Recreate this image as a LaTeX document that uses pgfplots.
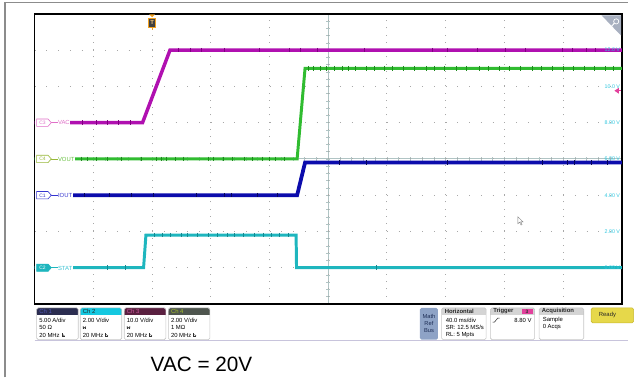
\documentclass[border=0pt]{standalone}
\usepackage{pgfplots}
\pgfplotsset{compat=1.18}
\usepackage{fontspec}
\setmainfont{Liberation Sans}

\definecolor{vaccol}{HTML}{B010B0}
\definecolor{vacdark}{HTML}{800080}
\definecolor{vaclbl}{HTML}{E070C8}
\definecolor{voutcol}{HTML}{30BC30}
\definecolor{voutdark}{HTML}{1E8A1E}
\definecolor{voutlbl}{HTML}{68C040}
\definecolor{c4tag}{HTML}{98B838}
\definecolor{ioutcol}{HTML}{0C0CAC}
\definecolor{ioutdark}{HTML}{06065C}
\definecolor{ioutlbl}{HTML}{3434D0}
\definecolor{statcol}{HTML}{1EB6BE}
\definecolor{statdark}{HTML}{14888F}
\definecolor{statlbl}{HTML}{3CC4D4}
\definecolor{gridcol}{HTML}{A8A8A8}
\definecolor{centercol}{HTML}{B0C4C4}
\definecolor{voltlbl}{HTML}{30C6DE}
\definecolor{framecol}{HTML}{8C8C8C}
\definecolor{boxline}{HTML}{C6C6C6}
\definecolor{ch1head}{HTML}{2B2D50}
\definecolor{ch1txt}{HTML}{5058B8}
\definecolor{ch2head}{HTML}{14C8E0}
\definecolor{ch3head}{HTML}{5A2040}
\definecolor{ch3txt}{HTML}{D058A0}
\definecolor{ch4head}{HTML}{4E554E}
\definecolor{ch4txt}{HTML}{A8C428}
\definecolor{mathbox}{HTML}{8EA3C6}
\definecolor{mathtxt}{HTML}{1C2C54}
\definecolor{headgray}{HTML}{D4D4D4}
\definecolor{trigpink}{HTML}{E2409C}
\definecolor{readyfill}{HTML}{E6D84A}
\definecolor{readyline}{HTML}{C8B830}
\definecolor{trigorange}{HTML}{F0A020}
\definecolor{panelline}{HTML}{C8C4DC}
\definecolor{zoomtri}{HTML}{A8B0C0}

\newcommand\fs[1]{\fontsize{#1}{#1}\selectfont}

% channel tag on the left edge of the screen:
% #1 ground coordinate, #2 outline, #3 fill, #4 tag text colour, #5 tag, #6 label colour, #7 label
\newcommand\chtag[7]{%
  \begin{scope}[shift={(#1)}]
    \fill[white] (0.8,-4.6) rectangle (24,4.6);
    \draw[#2, line width=0.5bp] (16.8,0) -- (23.5,0);
    \filldraw[draw=#2, fill=#3, line width=0.6bp]
      (2,-3.7) -- (13.5,-3.7) -- (16.8,0) -- (13.5,3.7) -- (2,3.7) -- cycle;
    \node[font=\fs{5}, text=#4, inner sep=0pt] at (8,0.2) {#5};
    \node[anchor=west, font=\fs{6}, text=#6, fill=white, inner xsep=0.4bp, inner ysep=0.8bp] at (23,0.3) {#7};
  \end{scope}}

% small bandwidth-limit glyph
\newcommand\bwicon[2]{%
  \draw[black!80, line width=0.45bp] (#1,#2-1.8) -- (#1,#2+1.6) -- (#1+2.8,#2+1.6);
  \draw[black!80, line width=0.45bp] (#1+0.8,#2-0.6) -- (#1+2.6,#2+0.9);}
% small coupling glyph
\newcommand\cplicon[2]{%
  \draw[black!80, line width=0.5bp] (#1,#2+1.7) -- (#1,#2) arc[start angle=180, end angle=0, radius=1.3] -- (#1+2.6,#2+1.7);
  \draw[black!80, line width=0.45bp] (#1-0.6,#2+1.7) -- (#1+0.6,#2+1.7) (#1+2,#2+1.7) -- (#1+3.2,#2+1.7);}

% channel settings box: #1 left x, #2 header fill, #3 header text colour, #4 title, #5-#7 lines
\newcommand\chbox[7]{%
  \begin{scope}[shift={(#1,311)}]
    \fill[#2, rounded corners=1.4bp] (0,0) rectangle (42,7);
    \fill[#2] (0,3.5) rectangle (42,7);
    \draw[boxline, rounded corners=1.6bp, line width=0.6bp] (0,0) rectangle (42,32);
    \node[anchor=west, font=\fs{6}, text=#3, inner sep=0pt] at (2.5,3.7) {#4};
    \node[anchor=west, font=\fs{6}, inner sep=0pt] at (2.5,12.3) {#5};
    \node[anchor=west, font=\fs{6}, inner sep=0pt] at (2.5,20) {#6};
    \node[anchor=west, font=\fs{6}, inner sep=0pt] at (2.5,27.4) {#7};
  \end{scope}}

% glitch ticks riding on a trace
\pgfplotsset{glitch/.style={only marks, mark=|, mark size=2.3bp, mark options={line width=0.55bp}}}

\begin{document}
\begin{tikzpicture}
% ---------- frame and centre graticule (under the traces)
\begin{scope}[x=1bp, y=-1bp]
  \path[use as bounding box] (0,0) rectangle (634,381);
  \draw[framecol, line width=1.3bp] (5,381) -- (5,2.6) -- (634,2.6);
  \draw[centercol, line width=0.9bp] (331.5,14) -- (331.5,307);
  \draw[centercol, line width=0.9bp] (35,160.5) -- (628,160.5);
  \foreach \i in {1,...,49} \draw[centercol, line width=0.7bp] ({35+\i*11.86},158.6) -- ({35+\i*11.86},162.4);
  \foreach \i in {1,...,39} \draw[centercol, line width=0.7bp] (329.6,{14+\i*7.325}) -- (333.4,{14+\i*7.325});
\end{scope}

% ---------- screen: time in ms (40 ms/div), vertical scale of Ch2 (2 V/div)
\begin{axis}[
  at={(35bp,-307bp)}, anchor=south west,
  width=593bp, height=293bp, scale only axis,
  xmin=-80, xmax=320, ymin=-2, ymax=14,
  xtick={-80,-40,...,320}, ytick={-2,0,...,14},
  xticklabels={}, yticklabels={},
  major tick length=0pt,
  grid=major,
  x grid style={gridcol, line width=1bp, dash pattern=on 1bp off 6.325bp},
  y grid style={gridcol, line width=1bp, dash pattern=on 1bp off 10.86bp},
  axis line style={black, line width=1.4bp},
]
% Ch3  VAC  (10 V/div, ground at 8)
\addplot[vaccol, line width=3.5bp] table[x=t, y expr={8+0.2*\thisrow{v}}] {
t v
-80 0
-6.5 0
12.2 20
320 20
};
\addplot[glitch, vacdark] table[x=t, y expr={8+0.2*\thisrow{v}}] {
t v
-47.6 0
-38.2 0
-30.8 0
-22.7 0
-14.6 0
17.8 20
25.9 20
33.3 20
49.5 20
73.1 20
93.3 20
100.8 20
112.2 20
144.6 20
191.2 20
201.3 20
221.5 20
240.4 20
253.9 20
279.5 20
286.3 20
295.7 20
302.2 20
};
% Ch4  VOUT (2 V/div, ground at 6)
\addplot[voutcol, line width=3bp] table[x=t, y expr={6+\thisrow{v}}] {
t v
-80 0
98.8 0
104.2 5.0
320 5.0
};
\addplot[glitch, voutdark] table[x=t, y expr={6+\thisrow{v}}] {
t v
-48.3 0
-44.3 0
-38.2 0
-30.8 0
-21.3 0
-7.2 0
3.0 0
6.3 0
9.7 0
15.8 0
21.2 0
38.0 0
41.4 0
48.2 0
54.9 0
63.0 0
68.4 0
75.1 0
79.9 0
83.9 0
90.0 0
106.5 5.0
110.0 5.0
114.8 5.0
118.9 5.0
124.0 5.0
129.5 5.0
133.8 5.0
138.2 5.0
146.0 5.0
151.3 5.0
158.0 5.0
163.6 5.0
171.2 5.0
178.4 5.0
186.9 5.0
192.0 5.0
199.3 5.0
207.5 5.0
214.1 5.0
222.6 5.0
229.0 5.0
236.7 5.0
243.2 5.0
250.5 5.0
258.8 5.0
265.1 5.0
272.6 5.0
280.3 5.0
286.9 5.0
294.4 5.0
301.0 5.0
308.7 5.0
314.2 5.0
};
% Ch1  IOUT (5 A/div, ground at 4)
\addplot[ioutcol, line width=3.8bp] table[x=t, y expr={4+0.4*\thisrow{i}}] {
t i
-80 0
98.8 0
104.2 4.5
320 4.5
};
\addplot[glitch, ioutdark] table[x=t, y expr={4+0.4*\thisrow{i}}] {
t i
-46.3 0
-29.4 0
-13.9 0
0.9 0
29.9 0
49.5 0
53.6 0
71.8 0
85.3 0
127.7 4.5
146.0 4.5
201.3 4.5
266.0 4.5
282.9 4.5
287.6 4.5
299.1 4.5
309.9 4.5
};
% Ch2  STAT (2 V/div, ground at 0)
\addplot[statcol, line width=3bp] table[x=t, y=v] {
t v
-80 0
-5.8 0
-4.2 1.8
98.1 1.8
98.4 0
320 0
};
\addplot[glitch, statdark] table[x=t, y=v] {
t v
-30.5 0
-18.2 0
1.5 1.8
6.8 1.8
12.4 1.8
19.7 1.8
24.1 1.8
31.0 1.8
38.6 1.8
44.2 1.8
50.9 1.8
56.3 1.8
62.0 1.8
69.5 1.8
75.8 1.8
81.2 1.8
86.7 1.8
92.5 1.8
153.0 0
};
% Ch2 scale readout
\foreach \v/\lab in {12/12.0 V,10/10.0 V,8/8.00 V,6/6.00 V,4/4.00 V,2/2.00 V,0/0.00 V}{
  \edef\temp{\noexpand\node[anchor=east, font=\noexpand\fs{5.4}, text=voltlbl, inner sep=0pt]
    at (axis cs:320,\v) [xshift=-1.6bp] {\lab};}
  \temp
}
\coordinate (g3) at (axis cs:-80,8);
\coordinate (g4) at (axis cs:-80,6);
\coordinate (g1) at (axis cs:-80,4);
\coordinate (g2) at (axis cs:-80,0);
\coordinate (trig) at (axis cs:320,9.76);
\coordinate (t0) at (axis cs:0,14);
\end{axis}

% ---------- overlays, panel and caption
\begin{scope}[x=1bp, y=-1bp]
  \chtag{g3}{vaclbl}{white}{vaclbl}{C3}{vaclbl}{VAC}
  \chtag{g4}{c4tag}{white}{c4tag}{C4}{voutlbl}{VOUT}
  \chtag{g1}{ioutlbl}{white}{ioutlbl}{C1}{ioutlbl}{IOUT}
  \chtag{g2}{statcol}{statcol}{white}{C2}{statlbl}{STAT}

  % trigger position marker
  \begin{scope}[shift={(t0)}]
    \fill[trigorange] (-3,0.5) -- (3,0.5) -- (0,3.5) -- cycle;
    \filldraw[draw=trigorange, fill=black!75, line width=0.7bp] (-3.3,4.3) rectangle (3.5,13.5);
    \node[font=\fs{6}\bfseries, text=trigorange!60!white, inner sep=0pt] at (0.1,9) {T};
    \draw[trigorange, line width=0.6bp] (0.1,13.5) -- (0.1,16);
  \end{scope}
  % trigger level arrow
  \fill[trigpink] ([xshift=-7.5bp]trig) -- ++(4.5,-3) -- ++(0,6) -- cycle;
  \draw[trigpink, line width=1.4bp] ([xshift=-4bp]trig) -- ([xshift=-0.8bp]trig);

  % zoom corner
  \fill[zoomtri] (607.5,15.5) -- (627.3,15.5) -- (627.3,36) -- cycle;
  \draw[white, line width=0.7bp] (622.3,21.6) circle (2.6);
  \draw[white, line width=1bp] (620.4,23.5) -- (617.6,26.6);

  % mouse pointer
  \filldraw[fill=white, draw=gray, line width=0.4bp]
    (523,219) -- (523,226) -- (524.8,224.4) -- (526.2,227.3) -- (527.2,226.8) -- (525.9,224) -- (528.2,224) -- cycle;

  % panel rule
  \draw[panelline, line width=1bp] (35,343.6) -- (634,343.6);

  % channel boxes
  \chbox{37}{ch1head}{ch1txt}{Ch 1}{5.00 A/div}{50 Ω}{20 MHz}
  \chbox{81}{ch2head}{black!85}{Ch 2}{2.00 V/div}{}{20 MHz}
  \chbox{125.5}{ch3head}{ch3txt}{Ch 3}{10.0 V/div}{}{20 MHz}
  \chbox{170}{ch4head}{ch4txt}{Ch 4}{2.00 V/div}{1 MΩ}{20 MHz}
  \cplicon{84}{330}
  \cplicon{128.5}{330}
  \bwicon{62.5}{338.4}
  \bwicon{106.5}{338.4}
  \bwicon{151}{338.4}
  \bwicon{195.5}{338.4}

  % Math / Ref / Bus
  \fill[mathbox, rounded corners=1.6bp] (424,311) rectangle (442.3,343);
  \node[font=\fs{5.8}, text=mathtxt, align=center, inner sep=0pt] at (433.2,319.3) {Math};
  \node[font=\fs{5.8}, text=mathtxt, align=center, inner sep=0pt] at (433.2,326.8) {Ref};
  \node[font=\fs{5.8}, text=mathtxt, align=center, inner sep=0pt] at (433.2,334.2) {Bus};

  % Horizontal
  \fill[headgray, rounded corners=1.4bp] (446,311) rectangle (491,317.7);
  \fill[headgray] (446,314) rectangle (491,317.7);
  \draw[boxline, rounded corners=1.6bp, line width=0.6bp] (446,311) rectangle (491,343);
  \node[anchor=west, font=\fs{6}\bfseries, text=black!85, inner sep=0pt] at (449,314.5) {Horizontal};
  \node[anchor=west, font=\fs{6}, inner sep=0pt] at (450,323.3) {40.0 ms/div};
  \node[anchor=west, font=\fs{6}, inner sep=0pt] at (450,330.7) {SR: 12.5 MS/s};
  \node[anchor=west, font=\fs{6}, inner sep=0pt] at (450,338.3) {RL: 5 Mpts};

  % Trigger
  \fill[headgray, rounded corners=1.4bp] (495.3,311) rectangle (540,317.7);
  \fill[headgray] (495.3,314) rectangle (540,317.7);
  \draw[boxline, rounded corners=1.6bp, line width=0.6bp] (495.3,311) rectangle (540,343);
  \node[anchor=west, font=\fs{6}\bfseries, text=black!85, inner sep=0pt] at (498,314.5) {Trigger};
  \fill[trigpink] (526.8,312.2) rectangle (537.8,317.3);
  \node[font=\fs{5}\bfseries, text=black!80, inner sep=0pt] at (532.3,314.8) {3};
  \draw[black!85, line width=0.5bp] (497.5,325.2) -- (499.5,325.2) -- (502.5,321.4) -- (504.5,321.4);
  \node[anchor=east, font=\fs{6}, inner sep=0pt] at (537,323.3) {8.80 V};

  % Acquisition
  \fill[headgray, rounded corners=1.4bp] (544.5,311) rectangle (589.5,317.7);
  \fill[headgray] (544.5,314) rectangle (589.5,317.7);
  \draw[boxline, rounded corners=1.6bp, line width=0.6bp] (544.5,311) rectangle (589.5,343);
  \node[anchor=west, font=\fs{6}\bfseries, text=black!85, inner sep=0pt] at (547,314.5) {Acquisition};
  \node[anchor=west, font=\fs{6}, inner sep=0pt] at (548,323.3) {Sample};
  \node[anchor=west, font=\fs{6}, inner sep=0pt] at (548,330.7) {0 Acqs};

  % Ready
  \filldraw[fill=readyfill, draw=readyline, rounded corners=1.6bp, line width=0.6bp] (597,311) rectangle (640,326);
  \node[font=\fs{6}, text=black!85, inner sep=0pt] at (613.5,318.4) {Ready};

  % caption
  \node[anchor=base, font=\fs{21}, inner sep=0pt] at (203.5,375) {VAC = 20V};
\end{scope}
\end{tikzpicture}
\end{document}
